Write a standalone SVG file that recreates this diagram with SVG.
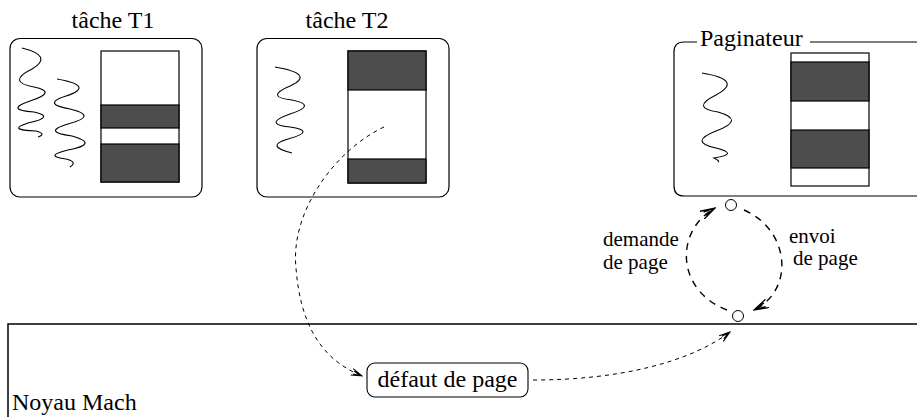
<svg xmlns="http://www.w3.org/2000/svg" width="917" height="417" viewBox="0 0 917 417">
<style>
.box{fill:#fff;stroke:#000;stroke-width:1.2}
.mem{fill:#fff;stroke:#000;stroke-width:1.2}
.dark{fill:#4d4d4d;stroke:#000;stroke-width:1.2}
.wave{fill:none;stroke:#000;stroke-width:1.1}
text{font-family:'Liberation Serif','Times New Roman','DejaVu Serif',serif;fill:#000}
.title{font-size:24px}
.lab{font-size:21px}
.thin{fill:none;stroke:#000;stroke-width:1;stroke-dasharray:4 4}
.loop{fill:none;stroke:#000;stroke-width:1.4;stroke-dasharray:7 6}
</style>
<defs>
<marker id="a1" markerUnits="userSpaceOnUse" markerWidth="12" markerHeight="8" refX="11" refY="4" orient="auto">
<path d="M0,0.5 L11,4 L0,7.5 M2,2.5 L11,4 L2,5.5" fill="none" stroke="#000" stroke-width="1"/>
</marker>
<marker id="a2" markerUnits="userSpaceOnUse" markerWidth="16" markerHeight="10" refX="15" refY="5" orient="auto">
<path d="M0,0.5 L15,5 L0,9.5 M3,3 L15,5 L3,7" fill="none" stroke="#000" stroke-width="1.3"/>
</marker>
</defs>
<rect width="917" height="417" fill="#fff"/>

<g id="t1">
<text class="title" x="113" y="28" text-anchor="middle">tâche T1</text>
<rect class="box" x="10" y="38.5" width="192" height="158.5" rx="10"/>
<rect class="mem" x="101" y="51" width="78" height="131"/>
<rect class="dark" x="101" y="105" width="78" height="23"/>
<rect class="dark" x="101" y="144" width="78" height="38"/>
<path class="wave" d="M22,48 Q54,56 32,69 Q6,82 34,87 Q58,92 30,101 Q4,110 34,112 Q56,117 28,123 Q6,130 36,131 Q47,134 38,137"/>
<path class="wave" d="M57,79 Q96,86 66,96 Q41,104 70,109 Q99,116 68,124 Q41,132 72,136 Q100,144 68,150 Q43,156 66,159 Q78,162 70,167"/>
</g>

<g id="t2">
<text class="title" x="347" y="28" text-anchor="middle">tâche T2</text>
<rect class="box" x="257" y="38.5" width="192" height="158.5" rx="10"/>
<rect class="mem" x="348" y="51" width="78" height="132"/>
<rect class="dark" x="348" y="51" width="78" height="39"/>
<rect class="dark" x="348" y="159" width="78" height="24"/>
<path class="wave" d="M275,67 Q316,74 290,86 Q264,97 292,100 Q318,105 290,114 Q262,124 290,127 Q317,131 288,139 Q264,146 292,153"/>
</g>

<g id="paginateur">
<path class="box" d="M697,42 L684,42 Q674,42 674,52 L674,186 Q674,196 684,196 L925,196 M810,42 L925,42" fill="none"/>
<text class="title" x="700" y="46">Paginateur</text>
<rect class="mem" x="791" y="53" width="78" height="133"/>
<rect class="dark" x="791" y="62" width="78" height="39"/>
<rect class="dark" x="791" y="130" width="78" height="38"/>
<path class="wave" d="M702,73 Q744,80 716,95 Q690,108 718,112 Q746,120 716,131 Q688,142 716,148 Q740,154 714,158 Q720,161 718,162"/>
<circle cx="731" cy="205" r="5.5" fill="#fff" stroke="#000" stroke-width="1"/>
</g>

<g id="noyau">
<rect x="8" y="324" width="930" height="120" fill="none" stroke="#000" stroke-width="1.5"/>
<text class="title" x="12" y="410">Noyau Mach</text>
<circle cx="738" cy="316" r="5.5" fill="#fff" stroke="#000" stroke-width="1"/>
</g>

<g id="defaut">
<rect x="367" y="363" width="161" height="34" rx="8" fill="#fff" stroke="#000" stroke-width="1.1"/>
<text class="title" x="447.5" y="387" text-anchor="middle">défaut de page</text>
</g>

<g id="labels">
<text class="lab" x="603" y="246">demande</text>
<text class="lab" x="603" y="269">de page</text>
<text class="lab" x="789" y="243">envoi</text>
<text class="lab" x="793" y="265">de page</text>
</g>

<g id="connectors">
<path class="thin" d="M384,127 C335,150 290,212 296,268 C300,320 318,358 362,376" marker-end="url(#a1)"/>
<path class="thin" d="M533,380 C620,380 690,362 730,332" marker-end="url(#a1)"/>
<path class="loop" d="M727,310 C675,290 675,230 715,208" marker-end="url(#a2)"/>
<path class="loop" d="M744,210 C790,230 795,290 754,310" marker-end="url(#a2)"/>
</g>
</svg>
